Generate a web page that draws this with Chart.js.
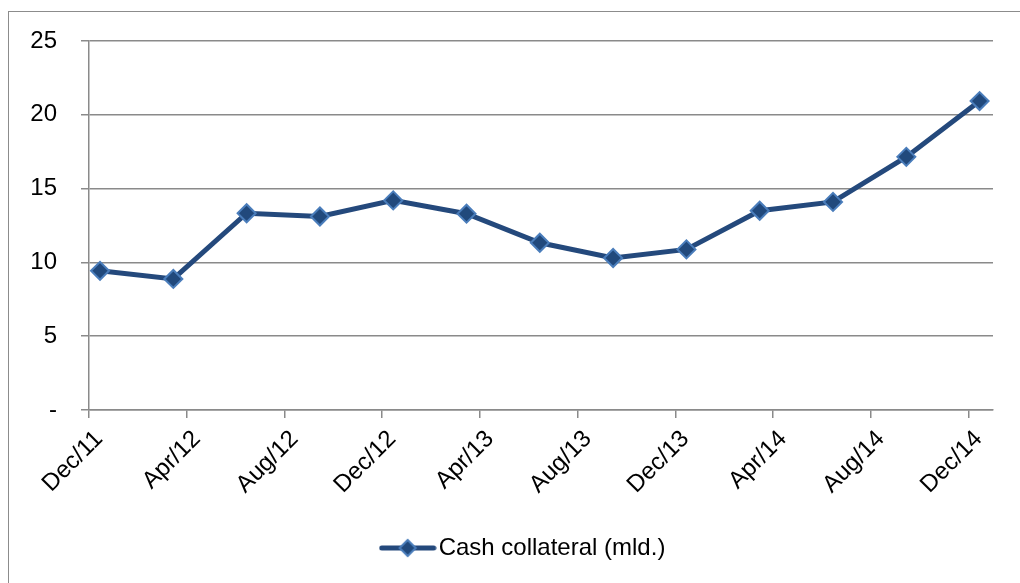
<!DOCTYPE html>
<html>
<head>
<meta charset="utf-8">
<script src="https://cdn.jsdelivr.net/npm/chart.js@4.4.1/dist/chart.umd.min.js"></script>
<style>
  html, body { margin: 0; padding: 0; background: #ffffff; }
  #wrap { position: relative; width: 1020px; height: 583px; overflow: hidden; }
  #frame { position: absolute; left: 8px; top: 11px; width: 1030px; height: 600px; border: 1.5px solid #8c8c8c; box-sizing: border-box; }
  #c { position: absolute; left: 0; top: 0; }
</style>
</head>
<body>
<div id="wrap">
  <div id="frame"></div>
  <canvas id="c" width="1020" height="583"></canvas>
</div>
<script>
// ---- data ----
const seriesName = 'Cash collateral (mld.)';
const observationDates = ['2011-12-15','2012-03-15','2012-06-15','2012-09-15','2012-12-15','2013-03-15','2013-06-15','2013-09-15','2013-12-15','2014-03-15','2014-06-15','2014-09-15','2014-12-15'];
const cashCollateral = [9.43, 8.88, 13.33, 13.11, 14.2, 13.3, 11.33, 10.3, 10.88, 13.5, 14.1, 17.15, 20.93];
const xTickLabels = ['Dec/11','Apr/12','Aug/12','Dec/12','Apr/13','Aug/13','Dec/13','Apr/14','Aug/14','Dec/14'];
const yTickValues = [0, 5, 10, 15, 20, 25];

// months since Dec 2011 (axis origin)
function monthIndex(s) {
  const [y, m, d] = s.split('-').map(Number);
  return (y - 2011) * 12 + (m - 12) + (d - 1) / 31;
}
const points = observationDates.map((d, i) => ({ x: monthIndex(d), y: cashCollateral[i] }));

const lineColor = '#24497c';
const markerFill = '#21497c';
const markerBorder = '#4a7dbb';
const gridColor = '#8a8a8a';
const fontFamily = '"Liberation Sans", Arial, sans-serif';

// legend symbol: line with diamond
const sym = document.createElement('canvas');
sym.width = 58; sym.height = 22;
(function () {
  const g = sym.getContext('2d');
  g.strokeStyle = lineColor; g.lineWidth = 5; g.lineCap = 'round';
  g.beginPath(); g.moveTo(3, 11); g.lineTo(55, 11); g.stroke();
  g.beginPath(); g.moveTo(29 - 8, 11); g.lineTo(29, 3); g.lineTo(29 + 8, 11); g.lineTo(29, 19); g.closePath();
  g.fillStyle = markerFill; g.fill();
  g.strokeStyle = markerBorder; g.lineWidth = 2; g.stroke();
})();

// shift the legend so it sits where the reference has it
const legendShift = {
  id: 'legendShift',
  afterLayout(chart) {
    const lg = chart.legend;
    if (lg) { lg.left += 30.5; lg.right += 30.5; }
  }
};

new Chart(document.getElementById('c'), {
  type: 'line',
  data: {
    datasets: [{
      label: seriesName,
      data: points,
      borderColor: lineColor,
      borderWidth: 5,
      backgroundColor: markerFill,
      pointStyle: 'rectRot',
      pointRadius: 9,
      pointBackgroundColor: markerFill,
      pointBorderColor: markerBorder,
      pointBorderWidth: 2,
      tension: 0,
      fill: false
    }]
  },
  plugins: [legendShift],
  options: {
    responsive: false,
    animation: false,
    devicePixelRatio: 1,
    layout: { padding: { left: 0, right: 27, top: 41, bottom: 13 } },
    plugins: {
      tooltip: { enabled: false },
      legend: {
        position: 'bottom',
        labels: {
          usePointStyle: true,
          pointStyleWidth: 38,
          color: '#000',
          font: { family: fontFamily, size: 24 },
          padding: 10,
          generateLabels: (chart) => [{
            text: seriesName,
            pointStyle: sym,
            fillStyle: markerFill,
            strokeStyle: markerBorder,
            lineWidth: 0,
            hidden: false,
            datasetIndex: 0,
            fontColor: '#000'
          }]
        }
      }
    },
    scales: {
      x: {
        type: 'linear',
        min: 0,
        max: 37,
        afterBuildTicks: (scale) => {
          scale.ticks = xTickLabels.map((_, i) => ({ value: i * 4 }));
        },
        afterFit: (scale) => { scale.height = 116; },
        ticks: {
          autoSkip: false,
          maxRotation: 45,
          minRotation: 45,
          padding: 7,
          labelOffset: 10,
          color: '#000',
          font: { family: fontFamily, size: 24 },
          callback: (v) => xTickLabels[Math.round(v / 4)]
        },
        grid: { drawOnChartArea: false, drawTicks: true, tickLength: 8, color: gridColor, lineWidth: 1.5 },
        border: { display: true, color: gridColor, width: 1.5 }
      },
      y: {
        min: 0,
        max: 25,
        afterBuildTicks: (scale) => {
          scale.ticks = yTickValues.map(v => ({ value: v }));
        },
        afterFit: (scale) => { scale.width = 89; },
        ticks: {
          padding: 24,
          color: '#000',
          font: { family: fontFamily, size: 24 },
          callback: (v) => (v === 0 ? '-' : String(v))
        },
        grid: { color: gridColor, lineWidth: 1.5, tickLength: 8, drawTicks: true },
        border: { display: true, color: gridColor, width: 1.5 }
      }
    }
  }
});
</script>
</body>
</html>
